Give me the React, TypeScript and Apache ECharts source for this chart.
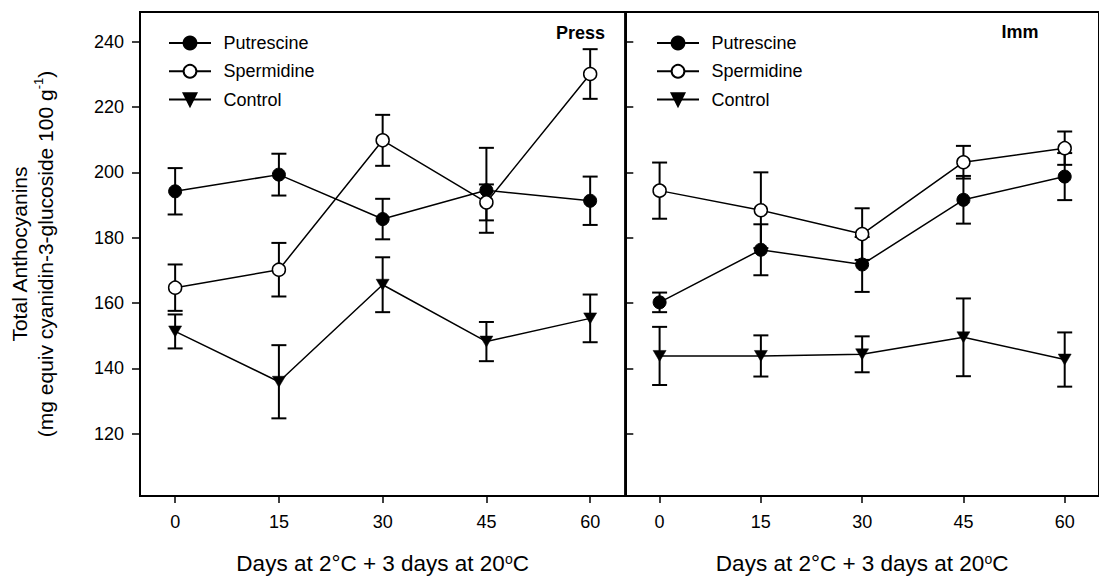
import React, { useEffect, useRef } from "react";
import * as echarts from "echarts";

const days = [0, 15, 30, 45, 60];
const yTicks = [120, 140, 160, 180, 200, 220, 240];
const seriesNames = ["Putrescine", "Spermidine", "Control"];

const pressPut = [194.2, 199.3, 185.7, 194.5, 191.3];
const pressPutErr = [7.1, 6.4, 6.2, 13.0, 7.4];
const pressSper = [164.7, 170.2, 209.8, 190.8, 230.1];
const pressSperErr = [7.1, 8.2, 7.8, 5.5, 7.6];
const pressCtrl = [151.3, 135.9, 165.6, 148.2, 155.3];
const pressCtrlErr = [5.2, 11.2, 8.4, 6.0, 7.3];

const immPut = [160.2, 176.3, 171.8, 191.6, 198.7];
const immPutErr = [3.0, 7.8, 8.4, 7.3, 7.2];
const immSper = [194.4, 188.4, 181.1, 203.1, 207.4];
const immSperErr = [8.6, 11.6, 7.9, 5.0, 5.1];
const immCtrl = [143.8, 143.8, 144.3, 149.5, 142.7];
const immCtrlErr = [8.9, 6.3, 5.5, 11.9, 8.3];

const FONT = "'Liberation Sans', Arial, Helvetica, sans-serif";

const pair = (vals: number[]) => days.map((d, i) => [d, vals[i]]);
const triple = (vals: number[], errs: number[]) => days.map((d, i) => [d, vals[i], errs[i]]);

function errorSeries(vals: number[], errs: number[], gi: number) {
  return {
    type: "custom",
    xAxisIndex: gi,
    yAxisIndex: gi,
    z: 1,
    silent: true,
    encode: { x: 0, y: 1 },
    data: triple(vals, errs),
    renderItem: (params: any, api: any) => {
      const x = api.value(0);
      const m = api.value(1);
      const e = api.value(2);
      const top = api.coord([x, m + e]);
      const bot = api.coord([x, m - e]);
      const hw = 7.5;
      const style = { stroke: "#000", lineWidth: 2 };
      return {
        type: "group",
        children: [
          { type: "line", shape: { x1: top[0], y1: top[1], x2: bot[0], y2: bot[1] }, style },
          { type: "line", shape: { x1: top[0] - hw, y1: top[1], x2: top[0] + hw, y2: top[1] }, style },
          { type: "line", shape: { x1: bot[0] - hw, y1: bot[1], x2: bot[0] + hw, y2: bot[1] }, style },
        ],
      };
    },
  };
}

function lineSeries(name: string, vals: number[], gi: number, kind: "filled" | "open" | "tri") {
  const base: any = {
    name,
    type: "line",
    xAxisIndex: gi,
    yAxisIndex: gi,
    z: 3,
    data: pair(vals),
    lineStyle: { color: "#000", width: 1.5 },
  };
  if (kind === "filled") {
    base.symbol = "circle";
    base.symbolSize = 13;
    base.itemStyle = { color: "#000", borderColor: "#000", borderWidth: 1 };
  } else if (kind === "open") {
    base.symbol = "circle";
    base.symbolSize = 13;
    base.itemStyle = { color: "#fff", borderColor: "#000", borderWidth: 1.5 };
  } else {
    base.symbol = "triangle";
    base.symbolSize = [13, 11];
    base.symbolRotate = 180;
    base.itemStyle = { color: "#000", borderColor: "#000", borderWidth: 0.5 };
  }
  return base;
}

const xName = "Days at 2°C + 3 days at 20{sup|o}C";

function xAxis(gi: number) {
  return {
    type: "value",
    gridIndex: gi,
    min: -5.08,
    max: 65.08,
    splitLine: { show: false },
    axisLine: { show: true, onZero: false, lineStyle: { color: "#000", width: 2 } },
    axisTick: { show: true, length: 7, customValues: days, lineStyle: { color: "#000", width: 1.5 } },
    axisLabel: { show: true, customValues: days, margin: 17, color: "#000", fontSize: 18, fontFamily: FONT },
    name: xName,
    nameLocation: "middle",
    nameGap: 56,
    nameTextStyle: {
      color: "#000",
      fontSize: 22.5,
      fontFamily: FONT,
      rich: { sup: { fontSize: 14, fontFamily: FONT, color: "#000", verticalAlign: "top" } },
    },
  };
}

function yAxis(gi: number) {
  const left = gi === 0;
  return {
    type: "value",
    gridIndex: gi,
    min: 100.93,
    max: 249.08,
    splitLine: { show: false },
    axisLine: { show: true, onZero: false, lineStyle: { color: "#000", width: 2 } },
    axisTick: {
      show: true,
      inside: !left,
      length: 8,
      customValues: yTicks,
      lineStyle: { color: "#000", width: 1.5 },
    },
    axisLabel: {
      show: left,
      customValues: yTicks,
      margin: 16,
      color: "#000",
      fontSize: 18,
      fontFamily: FONT,
    },
    name: left ? "Total Anthocyanins\n(mg equiv cyanidin-3-glucoside 100 g{sup|-1})" : "",
    nameLocation: "middle",
    nameGap: 82,
    nameTextStyle: {
      color: "#000",
      fontSize: 21,
      lineHeight: 26,
      fontFamily: FONT,
      rich: { sup: { fontSize: 13, fontFamily: FONT, color: "#000", verticalAlign: "top" } },
    },
  };
}

function legend(left: number) {
  return {
    orient: "vertical",
    left,
    top: 34,
    padding: 0,
    itemWidth: 42,
    itemHeight: 16,
    itemGap: 10.3,
    data: seriesNames,
    selectedMode: false,
    textStyle: { color: "#000", fontSize: 18, fontFamily: FONT, padding: [0, 0, 0, 7.5] },
  };
}

export default function App() {
  const ref = useRef<HTMLDivElement>(null);
  useEffect(() => {
    if (!ref.current) return;
    const chart = echarts.init(ref.current, undefined, { renderer: "svg" });
    const option: any = {
      animation: false,
      backgroundColor: "#fff",
      grid: [
        { left: 140, top: 12, width: 485.3, height: 484.7, show: true, borderColor: "#000", borderWidth: 2, backgroundColor: "transparent" },
        { left: 625.3, top: 12, width: 485.3, height: 484.7, show: true, borderColor: "#000", borderWidth: 2, backgroundColor: "transparent" },
      ],
      xAxis: [xAxis(0), xAxis(1)],
      yAxis: [yAxis(0), yAxis(1)],
      legend: [legend(168), legend(656)],
      series: [
        errorSeries(pressPut, pressPutErr, 0),
        errorSeries(pressSper, pressSperErr, 0),
        errorSeries(pressCtrl, pressCtrlErr, 0),
        errorSeries(immPut, immPutErr, 1),
        errorSeries(immSper, immSperErr, 1),
        errorSeries(immCtrl, immCtrlErr, 1),
        lineSeries("Putrescine", pressPut, 0, "filled"),
        lineSeries("Spermidine", pressSper, 0, "open"),
        lineSeries("Control", pressCtrl, 0, "tri"),
        lineSeries("Putrescine", immPut, 1, "filled"),
        lineSeries("Spermidine", immSper, 1, "open"),
        lineSeries("Control", immCtrl, 1, "tri"),
      ],
      graphic: [
        { type: "text", style: { text: "Press", x: 605, y: 33, textAlign: "right", textVerticalAlign: "middle", font: `bold 18px ${FONT}`, fill: "#000" } },
        { type: "text", style: { text: "Imm", x: 1020, y: 32, textAlign: "center", textVerticalAlign: "middle", font: `bold 18px ${FONT}`, fill: "#000" } },
      ],
    };
    chart.setOption(option);
    return () => chart.dispose();
  }, []);
  return (
    <div
      ref={ref}
      style={{ position: "absolute", left: 0, top: 0, width: 1099, height: 580, background: "#fff" }}
    />
  );
}
